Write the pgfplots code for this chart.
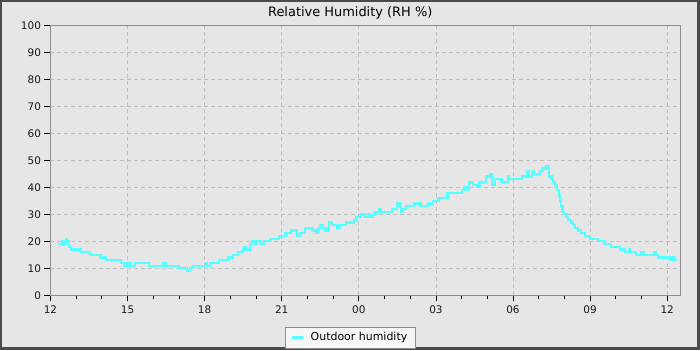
\documentclass[border=0pt]{standalone}
\usepackage{pgfplots}
\pgfplotsset{compat=1.18}
\usepackage{fontspec}
\setmainfont{DejaVu Sans}
\definecolor{bgc}{RGB}{230,230,230}
\definecolor{gridc}{RGB}{192,192,192}
\definecolor{axc}{RGB}{140,140,140}
\definecolor{linec}{RGB}{85,255,255}
\definecolor{framec}{RGB}{75,75,75}
\definecolor{legc}{RGB}{246,246,246}
\begin{document}
\begin{tikzpicture}
\fill[bgc] (0bp,0bp) rectangle (700bp,350bp);
\draw[framec, line width=2bp] (1bp,1.5bp) rectangle (698.5bp,349bp);
\draw[framec, line width=1bp] (0bp,3bp) -- (697bp,3bp) -- (697bp,350bp);
\useasboundingbox (0bp,0bp) rectangle (700bp,350bp);
\node[font=\fontsize{13}{15}\selectfont] at (350bp,337.5bp) {Relative Humidity (RH \%)};
\begin{axis}[
  at={(50bp,55bp)}, anchor=south west, scale only axis,
  width=630bp, height=270bp,
  xmin=0, xmax=24.5, ymin=0, ymax=100,
  axis background/.style={fill=bgc},
  axis line style={axc, line width=0.8bp},
  xtick={0,3,...,24}, xticklabels={12,15,18,21,00,03,06,09,12},
  minor xtick={1,2,4,5,7,8,10,11,13,14,16,17,19,20,22,23},
  ytick={0,10,...,100},
  tick align=outside, xtick pos=bottom, ytick pos=left,
  major tick length=6bp, minor tick length=3.5bp,
  tick style={black, line width=0.8bp},
  xmajorgrids, ymajorgrids,
  major grid style={gridc, dash pattern=on 4bp off 3bp, line width=0.8bp},
  ticklabel style={font=\fontsize{10.5}{12}\selectfont, text=black!90},
  xticklabel style={yshift=-1bp},
  /pgf/number format/assume math mode=true,
  legend style={at={(axis description cs:0.4766,0)}, anchor=north, yshift=-31.5bp,
    fill=legc, draw=axc, line width=0.8bp, font=\fontsize{11}{13}\selectfont,
    inner xsep=6bp, inner ysep=3.5bp, column sep=6bp},
  legend image code/.code={\fill[fill=linec, draw=none] (0bp,-1.1bp) rectangle (11bp,1.1bp);},
]
\addplot[const plot, draw=linec, line width=2.2bp] table {
x y
0.30 19
0.45 20
0.55 19
0.60 21
0.65 20
0.72 18
0.80 17
1.20 16
1.55 15
1.95 14
2.15 13
2.75 12
2.85 11
3.00 12
3.10 11
3.30 12
3.85 11
4.40 12
4.50 11
5.00 10
5.30 9
5.42 10
5.55 11
6.05 12
6.10 11
6.20 12
6.55 13
6.90 14
7.10 15
7.30 16
7.50 17
7.55 18
7.60 17
7.75 19
7.85 20
7.95 19
8.05 20
8.15 19
8.30 20
8.55 21
8.88 22
9.15 23
9.35 24
9.60 22
9.70 23
9.90 25
10.20 24
10.33 23
10.40 25
10.50 26
10.60 25
10.70 24
10.80 25
10.85 27
10.97 26
11.15 25
11.25 26
11.50 27
11.80 28
11.90 29
12.10 30
12.20 29
12.35 30
12.45 29
12.55 30
12.65 31
12.78 32
12.85 31
13.30 32
13.50 34
13.58 33
13.63 31
13.72 32
13.85 33
14.15 34
14.40 33
14.70 34
14.90 35
15.10 36
15.45 38
16.00 39
16.10 40
16.20 39
16.30 42
16.45 41
16.60 40
16.70 42
16.95 44
17.10 45
17.18 41
17.30 43
17.55 42
17.80 44
17.85 43
18.35 44
18.55 46
18.60 44
18.75 46
18.80 45
19.05 46
19.15 47
19.30 48
19.40 44
19.50 43
19.55 42
19.65 41
19.72 39
19.78 37
19.82 35
19.87 33
19.93 31
20.00 30
20.08 29
20.15 28
20.25 27
20.32 26
20.42 25
20.52 24
20.65 23
20.80 22
21.00 21
21.30 20
21.55 19
21.80 18
22.15 17
22.35 16
22.50 17
22.55 16
22.80 15
23.00 16
23.10 15
23.50 16
23.55 15
23.65 14
24.10 13
24.20 14
24.30 13
24.40 13
};
\addlegendentry{Outdoor humidity\hspace{8bp}}
\end{axis}
\end{tikzpicture}
\end{document}
